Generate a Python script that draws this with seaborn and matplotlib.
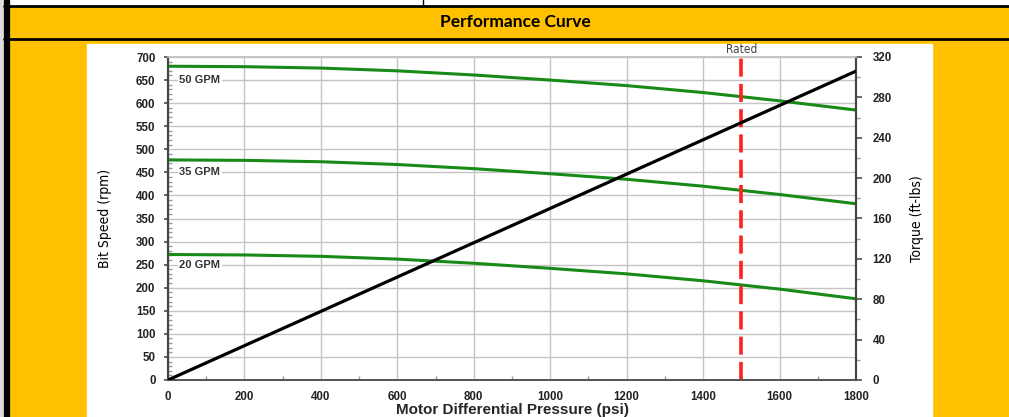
import numpy as np
import pandas as pd
import matplotlib
matplotlib.use("Agg")
import matplotlib.pyplot as plt
import seaborn as sns
from matplotlib.patches import Rectangle
from matplotlib.lines import Line2D
from matplotlib.ticker import MultipleLocator

# data
pressure = [0, 200, 400, 600, 800, 1000, 1200, 1400, 1600, 1800]
speed_50 = [680, 679, 676, 670, 661, 650, 638, 623, 605, 585]
speed_35 = [477, 476, 473, 467, 458, 447, 435, 420, 402, 382]
speed_20 = [272, 271, 268, 262, 253, 242, 230, 215, 197, 176]
flow_labels = ["50 GPM", "35 GPM", "20 GPM"]
torque_pressure = [0, 1800]
torque = [0, 306]
rated_pressure = 1500

W, H = 1009, 417
YELLOW = "#FFC000"
GREEN = "#178a17"

sns.set_theme(style="white")
plt.rcParams["font.family"] = ["Liberation Sans", "DejaVu Sans"]

fig = plt.figure(figsize=(W / 100, H / 100), dpi=100, facecolor=YELLOW)


def px(x0, y0, w, h):
    # pixel box (from top-left) -> figure fraction
    return (x0 / W, 1 - (y0 + h) / H, w / W, h / H)


# page frame: white strip at top, black rules, white chart panel
fig.add_artist(Rectangle(px(0, 0, W, 5)[:2], 1, 5 / H, transform=fig.transFigure,
                         color="white", zorder=0))
fig.add_artist(Rectangle(px(0, 0, 4, H)[:2], 4 / W, 1, transform=fig.transFigure,
                         color="#dddddd", zorder=0))
for yy in (5.5, 38.5):
    fig.add_artist(Line2D([4 / W, 1], [1 - yy / H] * 2, transform=fig.transFigure,
                          color="black", lw=2))
fig.add_artist(Line2D([6.5 / W] * 2, [0, 1], transform=fig.transFigure, color="black", lw=4.5))
fig.add_artist(Line2D([423 / W] * 2, [1, 1 - 5 / H], transform=fig.transFigure, color="black", lw=1))
x0, y0, w, h = px(87, 44, 845, H - 44)
fig.add_artist(Rectangle((x0, y0), w, h, transform=fig.transFigure, color="white", zorder=0))

fig.text(515 / W, 1 - 22 / H, "Performance Curve", ha="center", va="center",
         fontsize=12.5, fontweight="bold", color="black", family=["Lato", "DejaVu Sans"])

# axes
ax = fig.add_axes(px(168, 57, 688, 323))
ax.set_facecolor("white")
ax2 = ax.twinx()

speed_df = pd.DataFrame({
    "pressure": pressure * 3,
    "speed": speed_50 + speed_35 + speed_20,
    "flow": np.repeat(flow_labels, len(pressure)),
})
sns.lineplot(data=speed_df, x="pressure", y="speed", units="flow", estimator=None,
             color=GREEN, lw=2.2, ax=ax, legend=False, zorder=3)

torque_df = pd.DataFrame({"pressure": torque_pressure, "torque": torque})
sns.lineplot(data=torque_df, x="pressure", y="torque", color="black", lw=2.3,
             ax=ax2, legend=False, zorder=3)

narrow = dict(family=["DejaVu Sans"], fontstretch="condensed")

ax.axvline(rated_pressure, color="#ff2020", lw=2.6, dashes=(5, 2), zorder=4)
ax.text(rated_pressure, 703, "Rated", ha="center", va="bottom", fontsize=8.5,
        color="#444444", **narrow)

for lab, ys in zip(flow_labels, (650, 450, 250)):
    ax.text(30, ys, lab, ha="left", va="center", fontsize=8, fontweight="bold",
            color="#333333", zorder=2,
            bbox=dict(facecolor="white", edgecolor="none", pad=1))

ax.set_xlim(0, 1800)
ax.set_ylim(0, 700)
ax2.set_ylim(0, 320)
ax.xaxis.set_major_locator(MultipleLocator(200))
ax.xaxis.set_minor_locator(MultipleLocator(100))
ax.yaxis.set_major_locator(MultipleLocator(50))
ax.yaxis.set_minor_locator(MultipleLocator(10))
ax2.yaxis.set_major_locator(MultipleLocator(40))
ax2.yaxis.set_minor_locator(MultipleLocator(20))

ax.grid(True, which="major", color="#c4c4c4", lw=1, zorder=0)
ax.set_axisbelow(True)

tick_kw = dict(labelsize=8.3, labelcolor="#222222", colors="#555555")
ax.tick_params(axis="y", which="major", direction="out", length=3, pad=6, **tick_kw)
ax.tick_params(axis="y", which="minor", direction="in", length=3, color="#999999", left=True)
ax.tick_params(axis="x", which="major", direction="out", length=0, pad=8, **tick_kw)
ax.tick_params(axis="x", which="minor", direction="in", length=3, color="#999999", bottom=True)
ax2.tick_params(axis="y", which="major", direction="out", length=4, pad=8, **tick_kw)
ax2.tick_params(axis="y", which="minor", direction="out", length=3, color="#999999", right=True)
for a in (ax, ax2):
    for lab in a.get_xticklabels() + a.get_yticklabels():
        lab.set_fontweight("bold")

for a in (ax, ax2):
    a.spines["top"].set_color("#c4c4c4")
    a.spines["bottom"].set_color("#555555")
    a.spines["left"].set_color("#444444")
    a.spines["right"].set_color("#444444")
    a.spines["left"].set_linewidth(1.5)
    a.spines["right"].set_linewidth(1.5)

ax.set_ylabel("Bit Speed (rpm)", fontsize=10, labelpad=17, color="black", **narrow)
ax2.set_ylabel("Torque (ft-lbs)", fontsize=10, labelpad=13, color="black", **narrow)
ax.set_xlabel("Motor Differential Pressure (psi)", fontsize=11, fontweight="bold",
              labelpad=0)

fig.savefig("out.png", dpi=100, facecolor=YELLOW)
